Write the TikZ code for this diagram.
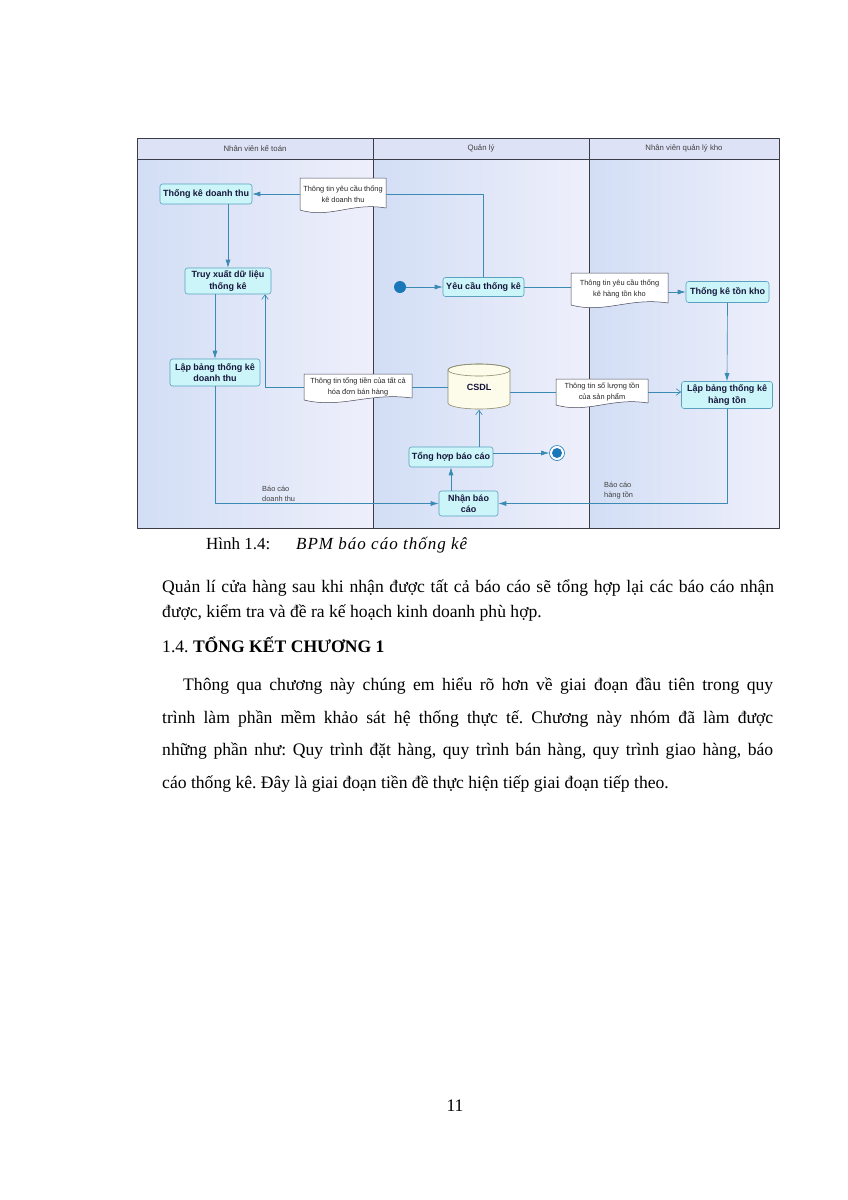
\documentclass[tikz,border=0pt]{standalone}
\usepackage{fontspec}
\setmainfont{Liberation Serif}
\newfontfamily\diafont{Liberation Sans}
\usetikzlibrary{arrows.meta,calc}
\frenchspacing

\definecolor{lanel}{RGB}{210,222,245}
\definecolor{laner}{RGB}{238,239,251}
\definecolor{headfill}{RGB}{222,226,246}
\definecolor{actfill}{RGB}{204,245,249}
\definecolor{actdraw}{RGB}{92,160,192}
\definecolor{acttext}{RGB}{22,22,60}
\definecolor{flowc}{RGB}{58,138,180}
\definecolor{dotc}{RGB}{26,120,184}
\definecolor{cylfill}{RGB}{253,251,234}
\definecolor{cyldraw}{RGB}{140,140,110}
\definecolor{framec}{RGB}{60,60,72}
\definecolor{notebd}{RGB}{70,70,90}

\newcommand{\bodyfont}{\fontsize{17.6}{21}\selectfont}

% document note: name, left, top, right, bottom, text
\newcommand{\docnote}[6]{%
  \path[fill=white, draw=notebd, line width=0.5pt] (#2,#5) -- (#2,#3) -- (#4,#3) -- (#4,#5-2)
    .. controls ({#4-0.4*(#4-#2)},#5-8) and ({#2+0.35*(#4-#2)},#5+9) .. (#2,#5) -- cycle;
  \node[notetx, minimum width={#4-#2}, minimum height={#5-#3}] (#1) at ({(#2+#4)/2},{(#3+#5)/2}) {#6};}

\begin{document}
\begin{tikzpicture}[x=1pt, y=-1pt, line join=round]
\tikzstyle{act} = [draw=actdraw, fill=actfill, rounded corners=2.5pt, line width=0.6pt, align=center, inner sep=1pt, text=acttext, font=\diafont\bfseries\fontsize{9}{11.5}\selectfont]
\tikzstyle{notetx} = [align=center, inner sep=0pt, text=black!85, font=\diafont\fontsize{7.4}{10.5}\selectfont]
\tikzstyle{lanehd} = [text=black!75, font=\diafont\fontsize{7.8}{9}\selectfont]
\tikzstyle{lbl} = [align=left, inner sep=0pt, text=black!75, font=\diafont\fontsize{7.4}{10}\selectfont]
\tikzstyle{link} = [draw=flowc, line width=0.65pt]
\tikzstyle{flow} = [link, -{Latex[length=8pt,width=5pt]}]
\tikzstyle{flowo} = [link, -{Straight Barb[length=4.5pt,width=6.5pt]}]
\tikzstyle{txt} = [anchor=base west, inner sep=0pt, font=\bodyfont]

  \useasboundingbox (0,0) rectangle (848,1200);
  \fill[white] (0,0) rectangle (848,1200);

  % swimlanes
  \foreach \xa/\xb in {137/373,373/589,589/779}{
    \shade[left color=lanel, right color=laner] (\xa,159) rectangle (\xb,528);
  }
  \fill[headfill] (137,138) rectangle (779,159);
  \draw[framec, line width=0.8pt] (137,138) rectangle (779,528);
  \draw[framec, line width=0.8pt] (137,159) -- (779,159);
  \draw[framec, line width=0.8pt] (373,138) -- (373,528);
  \draw[framec, line width=0.8pt] (589,138) -- (589,528);
  \foreach \i/\cx/\lab in {1/255/Nhân viên kế toán,2/481/Quản lý,3/684/Nhân viên quản lý kho}{
    \node[lanehd] (lane\i) at (\cx,148.5) {\lab};
  }

  % activities
  \node[act, minimum width=92, minimum height=20] (tkdt) at (206,194) {Thống kê doanh thu};
  \node[act, minimum width=86, minimum height=26] (txdl) at (228,281) {Truy xuất dữ liệu\\thống kê};
  \node[act, minimum width=90, minimum height=27] (lbdt) at (215,372.5) {Lập bảng thống kê\\doanh thu};
  \node[act, minimum width=81, minimum height=19] (yctk) at (483.5,287) {Yêu cầu thống kê};
  \node[act, minimum width=83, minimum height=21] (tktk) at (727.5,292) {Thống kê tồn kho};
  \node[act, minimum width=91, minimum height=27] (lbht) at (727,395) {Lập bảng thống kê\\hàng tồn};
  \node[act, minimum width=84, minimum height=20] (thbc) at (451,457) {Tổng hợp báo cáo};
  \node[act, minimum width=59, minimum height=25] (nbc) at (468.5,503.5) {Nhận báo\\cáo};

  % start / end
  \node[circle, fill=dotc, minimum size=12, inner sep=0pt] (start) at (400,287) {};
  \node[circle, draw=dotc, fill=white, line width=0.6pt, minimum size=15, inner sep=0pt,
    path picture={\fill[dotc] (path picture bounding box.center) circle[radius=5pt];}] (endn) at (557,453) {};

  % database
  \path[fill=cylfill, draw=cyldraw, line width=0.6pt] (448,370) -- (448,403)
    arc[start angle=180, end angle=0, x radius=31, y radius=6] -- (510,370)
    arc[start angle=0, end angle=-180, x radius=31, y radius=6] -- cycle;
  \draw[cyldraw, line width=0.6pt] (479,370) ellipse[x radius=31, y radius=6];
  \node[minimum width=62, minimum height=45, inner sep=0pt, text=acttext, font=\diafont\bfseries\fontsize{9}{11}\selectfont] (csdl) at (479,387) {CSDL};

  % data notes
  \docnote{nota}{300}{178}{386}{210}{Thông tin yêu cầu thống\\kê doanh thu}
  \docnote{notb}{571}{273}{668}{305}{Thông tin yêu cầu thống\\kê hàng tồn kho}
  \docnote{notc}{304}{374}{412}{400}{Thông tin tổng tiền của tất cả\\hóa đơn bán hàng}
  \docnote{notd}{556}{379}{648}{405}{Thông tin số lượng tồn\\của sản phẩm}

  % flows
  \draw[link] (yctk.north) |- (nota.east);
  \draw[flow] (nota.west) -- (tkdt.east);
  \draw[flow] (txdl.north |- tkdt.south) -- (txdl.north);
  \draw[flow] (lbdt.north |- txdl.south) -- (lbdt.north);
  \draw[link] (csdl.west) -- (csdl.west -| notc.east);
  \draw[flowo] (notc.west) -| ([xshift=37pt]txdl.south);
  \draw[flow] (lbdt.south) |- (nbc.west);
  \draw[flow] (thbc.south |- nbc.north) -- (thbc.south);
  \draw[flowo] (csdl.south |- thbc.north) -- (csdl.south);
  \draw[flow] (thbc.east |- endn.west) -- (endn.west);
  \draw[flow] (start) -- (yctk);
  \draw[link] (yctk.east) -- (yctk.east -| notb.west);
  \draw[flow] (notb.east |- tktk.west) -- (tktk.west);
  \draw[flow] (tktk.south) -- (lbht.north);
  \draw[link] (notd.west -| csdl.east) -- (notd.west);
  \draw[flowo] (notd.east) -- (notd.east -| lbht.west);
  \draw[flow] (lbht.south) |- (nbc.east);

  \node[lbl, anchor=west] (bcdt) at (262,493.5) {Báo cáo\\doanh thu};
  \node[lbl, anchor=west] (bcht) at (604,491) {Báo cáo\\hàng tồn};

  % page text
  \node[txt, font=\fontsize{17}{20}\selectfont] (cap) at (206,549) {Hình 1.4:};
  \node[txt, font={\fontsize{17}{20}\selectfont\itshape\addfontfeatures{LetterSpace=6}}] (captx) at (296,549) {BPM báo cáo thống kê};
  \node[txt] (p1a) at (162,592) {\makebox[612pt][s]{Quản lí cửa hàng sau khi nhận được tất cả báo cáo sẽ tổng hợp lại các báo cáo nhận}};
  \node[txt] (p1b) at (162,617) {được, kiểm tra và đề ra kế hoạch kinh doanh phù hợp.};
  \node[txt] (h14) at (162,652) {1.4. \textbf{TỔNG KẾT CHƯƠNG 1}};
  \node[txt] (p2a) at (183,690) {\makebox[590pt][s]{Thông qua chương này chúng em hiểu rõ hơn về giai đoạn đầu tiên trong quy}};
  \node[txt] (p2b) at (162,723) {\makebox[611pt][s]{trình làm phần mềm khảo sát hệ thống thực tế. Chương này nhóm đã làm được}};
  \node[txt] (p2c) at (162,755) {\makebox[611pt][s]{những phần như: Quy trình đặt hàng, quy trình bán hàng, quy trình giao hàng, báo}};
  \node[txt] (p2d) at (162,788) {cáo thống kê. Đây là giai đoạn tiền đề thực hiện tiếp giai đoạn tiếp theo.};
  \node[font=\bodyfont, inner sep=0pt] (pgno) at (455,1106) {11};
\end{tikzpicture}
\end{document}
